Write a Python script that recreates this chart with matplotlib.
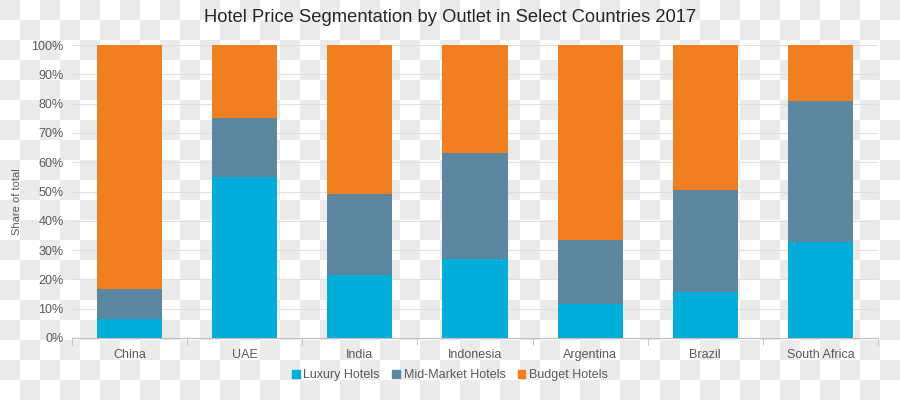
import numpy as np
import matplotlib
matplotlib.use("Agg")
import matplotlib.pyplot as plt
from matplotlib.patches import Patch

countries = ['China', 'UAE', 'India', 'Indonesia', 'Argentina', 'Brazil', 'South Africa']
luxury = [6.5, 55.0, 21.5, 27.0, 11.6, 15.7, 32.8]
mid_market = [10.2, 20.0, 27.5, 36.0, 21.8, 34.8, 48.2]
budget = [83.3, 25.0, 51.0, 37.0, 66.6, 49.5, 19.0]
series_names = ['Luxury Hotels', 'Mid-Market Hotels', 'Budget Hotels']
colors = ['#03ADD9', '#5D87A1', '#F17F22']

plt.rcParams['font.family'] = ['Liberation Sans', 'DejaVu Sans']

fig = plt.figure(figsize=(9, 4), dpi=100)

# checkerboard backdrop seen in the reference image
sq = 20
rows, cols = 400 // sq, 900 // sq
board = np.indices((rows, cols)).sum(axis=0) % 2
bg = np.where(np.kron(board, np.ones((sq, sq)))[..., None] == 0, 0.925, 1.0) * np.ones(3)
fig.figimage(bg, xo=0, yo=0, zorder=-10)

ax = fig.add_axes([72 / 900, 1 - 338 / 400, 806 / 900, 293 / 400])
ax.patch.set_alpha(0)

x = np.arange(len(countries))
w = 0.565
bottom = np.zeros(len(countries))
for vals, name, c in zip([luxury, mid_market, budget], series_names, colors):
    ax.bar(x, vals, w, bottom=bottom, color=c, label=name, zorder=3)
    bottom += np.array(vals)

ax.set_xlim(-0.5, len(countries) - 0.5)
ax.set_ylim(0, 100)
ax.set_yticks(np.arange(0, 101, 10))
ax.set_yticklabels([f'{v}%' for v in range(0, 101, 10)], fontsize=9, color='#595959')
ax.set_xticks(x)
ax.set_xticklabels(countries, fontsize=9, color='#595959')
ax.set_xticks(np.arange(-0.5, len(countries), 1), minor=True)
ax.tick_params(axis='x', which='major', length=0, pad=8)
ax.tick_params(axis='x', which='minor', length=5, color='#bfbfbf', direction='out')
ax.tick_params(axis='y', length=0, pad=6)
ax.yaxis.grid(True, color='#e0e0e0', lw=0.8, zorder=0)
for s in ['top', 'right', 'left']:
    ax.spines[s].set_visible(False)
ax.spines['bottom'].set_color('#bfbfbf')

fig.text(17 / 900, 1 - 202 / 400, 'Share of total', rotation=90, ha='center', va='center',
         fontsize=8, color='#595959')
fig.text(0.5, 1 - 18 / 400, 'Hotel Price Segmentation by Outlet in Select Countries 2017',
         ha='center', va='center', fontsize=13.2, color='#262626')

handles = [Patch(color=c, label=n) for c, n in zip(colors, series_names)]
fig.legend(handles=handles, loc='center', bbox_to_anchor=(0.5, 1 - 375 / 400), ncol=3,
           frameon=False, fontsize=9, handlelength=0.6, handleheight=0.6,
           handletextpad=0.3, columnspacing=1.0, labelcolor='#595959')

fig.savefig('out.png', dpi=100)
